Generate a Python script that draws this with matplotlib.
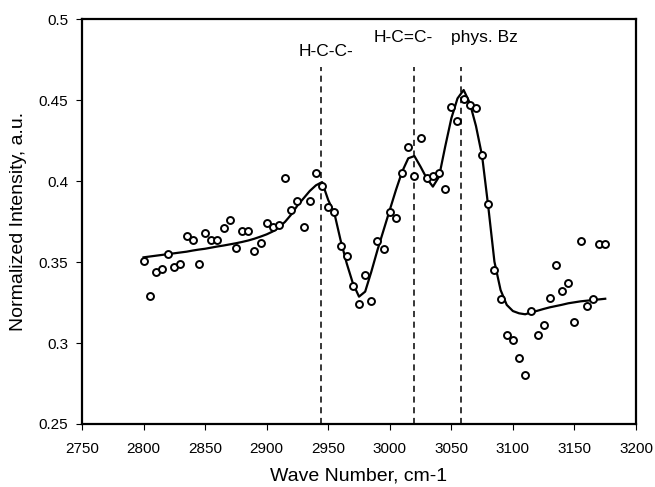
import numpy as np
import matplotlib
matplotlib.use("Agg")
import matplotlib.pyplot as plt

plt.rcParams['font.family'] = ['Liberation Sans', 'DejaVu Sans']

# --- Data ---
wave = np.arange(2800, 3180, 5)

measured = [
    0.351, 0.329, 0.344, 0.346, 0.355, 0.347, 0.349, 0.366, 0.364, 0.349,
    0.368, 0.364, 0.364, 0.371, 0.376, 0.359, 0.369, 0.369, 0.357, 0.362,
    0.374, 0.372, 0.373, 0.402, 0.382, 0.388,
    0.372, 0.388, 0.405, 0.397, 0.384, 0.381, 0.360, 0.354, 0.335, 0.324,
    0.342, 0.326, 0.363, 0.358, 0.381, 0.377, 0.405, 0.421, 0.403, 0.427,
    0.402, 0.403, 0.405, 0.395, 0.446, 0.437, 0.451, 0.447, 0.445,
    0.416, 0.386, 0.345, 0.327, 0.305, 0.302, 0.291, 0.280, 0.320, 0.305,
    0.311, 0.328, 0.348, 0.332, 0.337, 0.313, 0.363, 0.323, 0.327, 0.361,
    0.361,
]

fitted = [
    0.353, 0.3535, 0.354, 0.3545, 0.355, 0.3555, 0.356, 0.3565, 0.3572, 0.3578,
    0.3583, 0.359, 0.3597, 0.3603, 0.361, 0.3617, 0.3625, 0.3634, 0.3645, 0.3658,
    0.3672, 0.369, 0.3715, 0.375, 0.3795, 0.385,
    0.3895, 0.394, 0.3975, 0.3995, 0.3884, 0.3802, 0.3637, 0.3493, 0.337, 0.3287,
    0.3318, 0.3441, 0.3575, 0.3699, 0.3823, 0.3946, 0.4059, 0.4142, 0.4156, 0.409,
    0.4018, 0.3967, 0.4028, 0.4214, 0.4389, 0.4512, 0.4564, 0.4484, 0.4342,
    0.4156, 0.3843, 0.3503, 0.3328, 0.3236, 0.3198, 0.3184, 0.3178, 0.319, 0.320,
    0.3211, 0.3221, 0.3229, 0.3237, 0.3246, 0.3252, 0.3258, 0.3262, 0.3266, 0.327,
    0.3274,
]

peak_pos = [2944, 3020, 3058]
peak_labels = ['H-C-C-', 'H-C=C-', 'phys. Bz']
label_x = [2948, 3011, 3077]
label_y = [0.4805, 0.4886, 0.4886]

fig = plt.figure(figsize=(6.55, 4.87), dpi=100)
ax = fig.add_axes([0.1252, 0.1294, 0.971 - 0.1252, 0.96 - 0.1294])

# fitted curve + measured points
ax.plot(wave, fitted, color='black', linewidth=1.6, zorder=3)
ax.plot(wave, measured, linestyle='none', marker='o', markersize=5,
        markerfacecolor='white', markeredgecolor='black', markeredgewidth=1.4, zorder=4)

# peak markers
for xp in peak_pos:
    ax.plot([xp, xp], [0.25, 0.4708], color='black', linestyle=(0, (4, 3)),
            linewidth=1.1, zorder=2)

for txt, xt, yt in zip(peak_labels, label_x, label_y):
    ax.text(xt, yt, txt, ha='center', va='center', fontsize=12.5)

ax.set_xlim(2750, 3200)
ax.set_ylim(0.25, 0.5)
ax.set_xticks(np.arange(2750, 3201, 50))
ax.set_yticks([0.25, 0.3, 0.35, 0.4, 0.45, 0.5])
ax.set_yticklabels(['0.25', '0.3', '0.35', '0.4', '0.45', '0.5'])
ax.tick_params(direction='out', length=4, width=0.8, labelsize=11)
ax.tick_params(axis='x', pad=9)
ax.tick_params(axis='y', pad=6)

for s in ax.spines.values():
    s.set_linewidth(1.6)

ax.set_xlabel('Wave Number, cm-1', fontsize=14, labelpad=8)
ax.set_ylabel('Normalized Intensity, a.u.', fontsize=14, labelpad=8)

fig.savefig('out.png', dpi=100)
